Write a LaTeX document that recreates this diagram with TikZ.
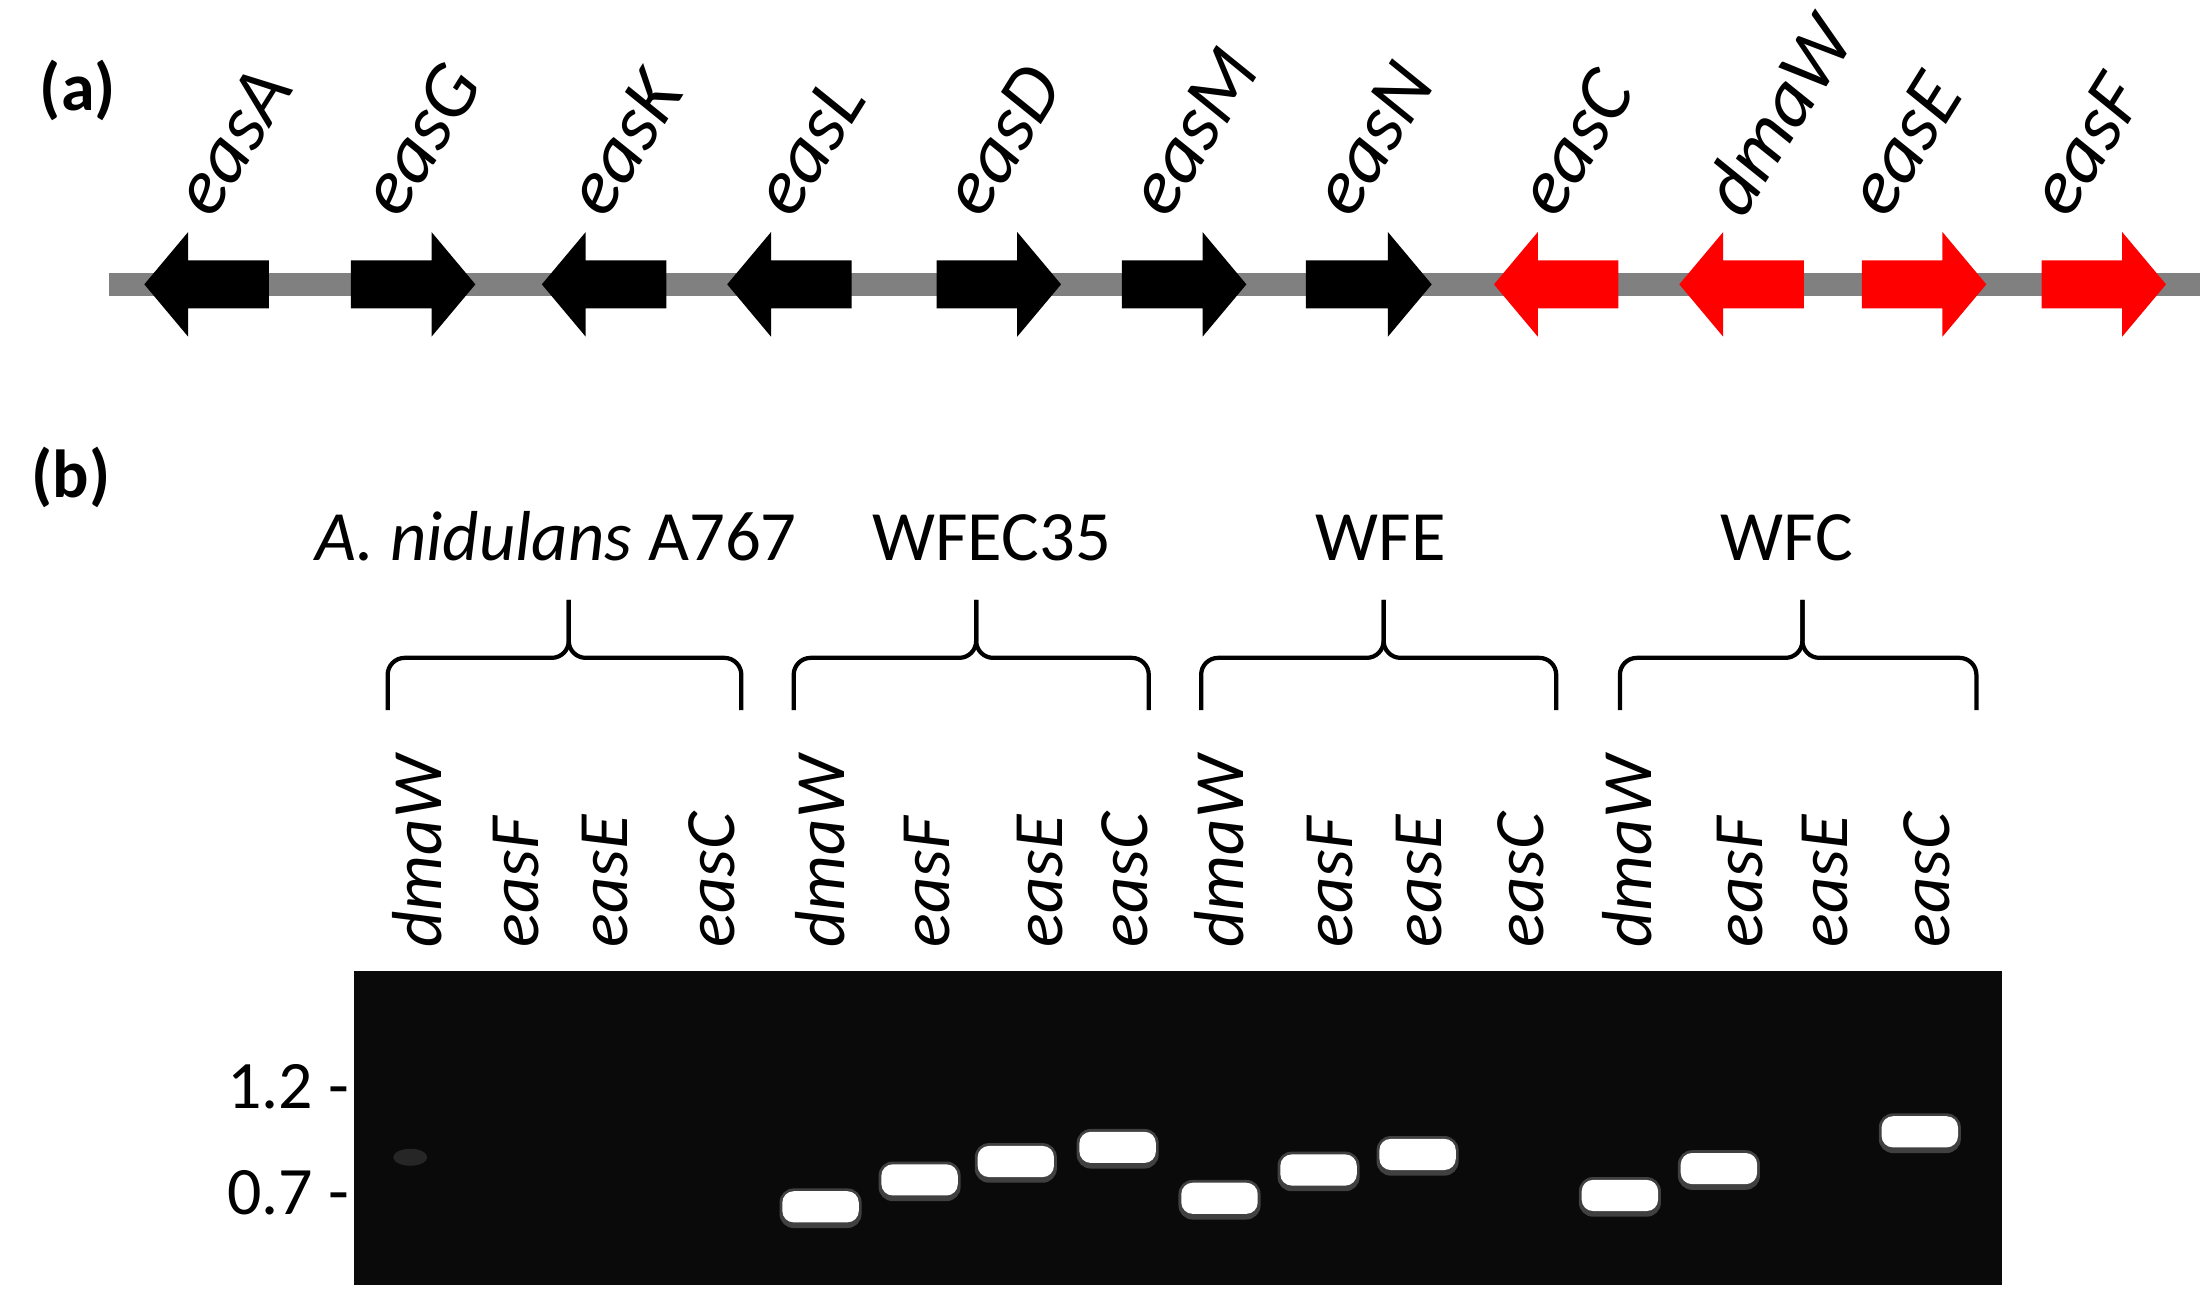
\documentclass[tikz,border=0pt]{standalone}
\usepackage{fontspec}
\setmainfont{Carlito}
\begin{document}
\begin{tikzpicture}[x=1pt,y=-1pt,
  gene/.style={font=\fontsize{56}{64}\selectfont\itshape, rotate=58, anchor=base west, inner sep=0pt},
  lane/.style={font=\fontsize{50}{58}\selectfont\itshape, rotate=90, anchor=west, inner sep=0pt},
  grp/.style={font=\fontsize{50}{58}\selectfont, anchor=base, inner sep=0pt},
  brace/.style={line width=3pt, rounded corners=12pt},
  band/.style={fill=white, rounded corners=8pt}]
\useasboundingbox (0,0) rectangle (1560,915);
\fill[white] (0,0) rectangle (1560,915);
\node[font=\fontsize{48}{56}\selectfont\bfseries, anchor=base] (la) at (55,78) {(a)};
\node[font=\fontsize{48}{56}\selectfont\bfseries, anchor=base] (lb) at (50,352) {(b)};
% chromosome line
\fill[gray] (77,193) rectangle (1555,209);
\newcommand{\larr}[3]{\fill[#3] (#1,201) -- (#1+31,164) -- (#1+31,184) -- (#2,184) -- (#2,218) -- (#1+31,218) -- (#1+31,238) -- cycle;}
\newcommand{\rarr}[3]{\fill[#3] (#2,201) -- (#2-31,164) -- (#2-31,184) -- (#1,184) -- (#1,218) -- (#2-31,218) -- (#2-31,238) -- cycle;}
\larr{102}{190}{black}
\rarr{248}{336}{black}
\larr{383}{471}{black}
\larr{514}{602}{black}
\rarr{662}{750}{black}
\rarr{793}{881}{black}
\rarr{923}{1012}{black}
\larr{1056}{1144}{red}
\larr{1187}{1275}{red}
\rarr{1316}{1404}{red}
\rarr{1443}{1531}{red}
\node[gene] (gA) at (150,156) {easA};
\node[gene] (gG) at (282,156) {easG};
\node[gene] (gK) at (428,156) {easK};
\node[gene] (gL) at (560,156) {easL};
\node[gene] (gD) at (694,156) {easD};
\node[gene] (gM) at (825,156) {easM};
\node[gene] (gN) at (955,156) {easN};
\node[gene] (gC) at (1100,156) {easC};
\node[gene] (gW) at (1232,156) {dmaW};
\node[gene] (gE) at (1333,156) {easE};
\node[gene] (gF) at (1462,156) {easF};
% groups
\node[grp] (t1) at (393,396) {\textit{A. nidulans} A767};
\node[grp] (t2) at (701,396) {WFEC35};
\node[grp] (t3) at (976,396) {WFE};
\node[grp] (t4) at (1263,396) {WFC};
\foreach \l/\m/\r in {274/402/524, 561/690/812, 849/978/1100, 1145/1274/1397}{
  \draw[brace] (\l,502) -- (\l,465) -- (\m,465) -- (\m,424);
  \draw[brace] (\r,502) -- (\r,465) -- (\m,465) -- (\m,424);
}
% lanes
\foreach \x/\t in {295/dmaW, 365/easF, 428/easE, 503/easC, 580/dmaW, 655/easF, 735/easE, 795/easC, 862/dmaW, 940/easF, 1003/easE, 1075/easC, 1150/dmaW, 1230/easF, 1290/easE, 1362/easC}{
  \node[lane] at (\x,670) {\t};
}
% gel
\fill[black!96] (250,686) rectangle (1415,908);
\node[font=\fontsize{48}{56}\selectfont, anchor=east, inner sep=0pt] (m1) at (247,768) {1.2 -};
\node[font=\fontsize{48}{56}\selectfont, anchor=east, inner sep=0pt] (m2) at (247,843) {0.7 -};
\fill[white!15!black] (290,818) ellipse (12 and 6);
\foreach \x/\y in {580/853, 650/834, 718/821, 790/811, 862/847, 932/827, 1002/816, 1145/845, 1215/826, 1357/800}{
  \fill[black!75, rounded corners=10pt] (\x-29,\y-13) rectangle (\x+29,\y+15);
  \fill[band] (\x-27,\y-11) rectangle (\x+27,\y+11);
}
\end{tikzpicture}
\end{document}
